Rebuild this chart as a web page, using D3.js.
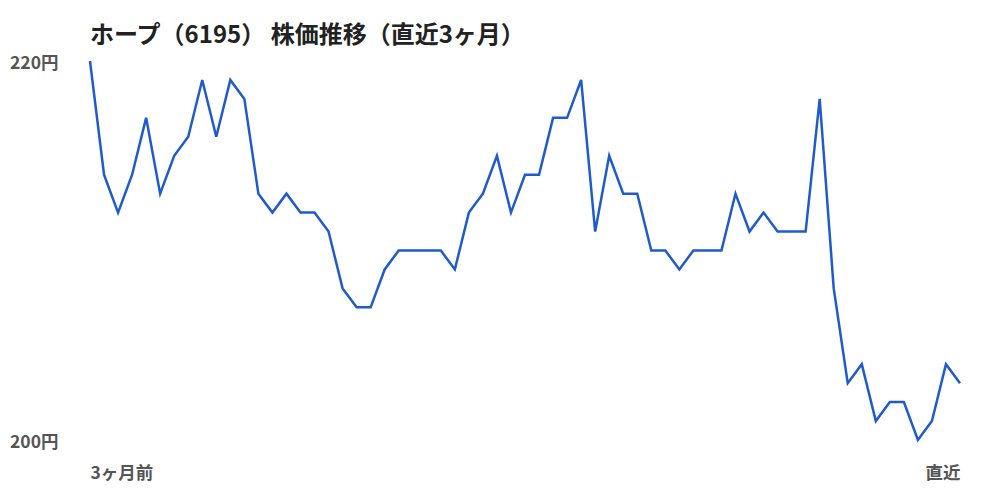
<!DOCTYPE html>
<html>
<head>
<meta charset="utf-8">
<title>ホープ（6195） 株価推移</title>
<script src="https://d3js.org/d3.v7.min.js"></script>
<style>
  body { margin: 0; background: #fff; }
  svg { display: block; font-family: "Noto Sans CJK JP", "Noto Sans", sans-serif; }
  .title { font-size: 24px; font-weight: bold; fill: #222; }
  .axis text { font-size: 17.5px; font-weight: bold; fill: #555; font-family: "Noto Sans CJK JP", sans-serif; }
  .axis path, .axis line { display: none; }
</style>
</head>
<body>
<svg id="chart" width="1000" height="500"></svg>
<script>
// daily closing prices, last 3 months (yen)
const prices = [
  220, 214, 212, 214, 217, 213, 215, 216, 219, 216,
  219, 218, 213, 212, 213, 212, 212, 211, 208, 207,
  207, 209, 210, 210, 210, 210, 209, 212, 213, 215,
  212, 214, 214, 217, 217, 219, 211, 215, 213, 213,
  210, 210, 209, 210, 210, 210, 213, 211, 212, 211,
  211, 211, 218, 208, 203, 204, 201, 202, 202, 200,
  201, 204, 203
];
const yTicks = [200, 220];
const xTickLabels = ['3ヶ月前', '直近'];
const titleText = 'ホープ（6195） 株価推移（直近3ヶ月）';

const svg = d3.select('#chart');
const margin = { top: 61, right: 40, bottom: 60, left: 90 };
const width = 1000, height = 500;

const x = d3.scaleLinear()
  .domain([0, prices.length - 1])
  .range([margin.left, width - margin.right]);
const y = d3.scaleLinear()
  .domain([200, 220])
  .range([440, margin.top]);

svg.append('text')
  .attr('class', 'title')
  .attr('x', 90)
  .attr('y', 43)
  .text(titleText);

// y labels on the far left
const yAxis = d3.axisLeft(y)
  .tickValues(yTicks)
  .tickSize(0)
  .tickPadding(0)
  .tickFormat(d => d + '円');
svg.append('g')
  .attr('class', 'axis')
  .attr('transform', 'translate(10,2)')
  .call(yAxis)
  .selectAll('text')
  .attr('text-anchor', 'start')
  .attr('x', 0);

// x labels: start and end only
const xAxis = d3.axisBottom(x)
  .tickValues([0, prices.length - 1])
  .tickSize(0)
  .tickPadding(0)
  .tickFormat((d, i) => xTickLabels[i]);
svg.append('g')
  .attr('class', 'axis')
  .attr('transform', 'translate(0,467)')
  .call(xAxis)
  .selectAll('text')
  .attr('text-anchor', (d, i) => i === 0 ? 'start' : 'end');

const line = d3.line()
  .x((d, i) => x(i))
  .y(d => y(d));

svg.append('path')
  .datum(prices)
  .attr('fill', 'none')
  .attr('stroke', '#1f5bcc')
  .attr('stroke-width', 2.5)
  .attr('stroke-linejoin', 'miter')
  .attr('d', line);
</script>
</body>
</html>
